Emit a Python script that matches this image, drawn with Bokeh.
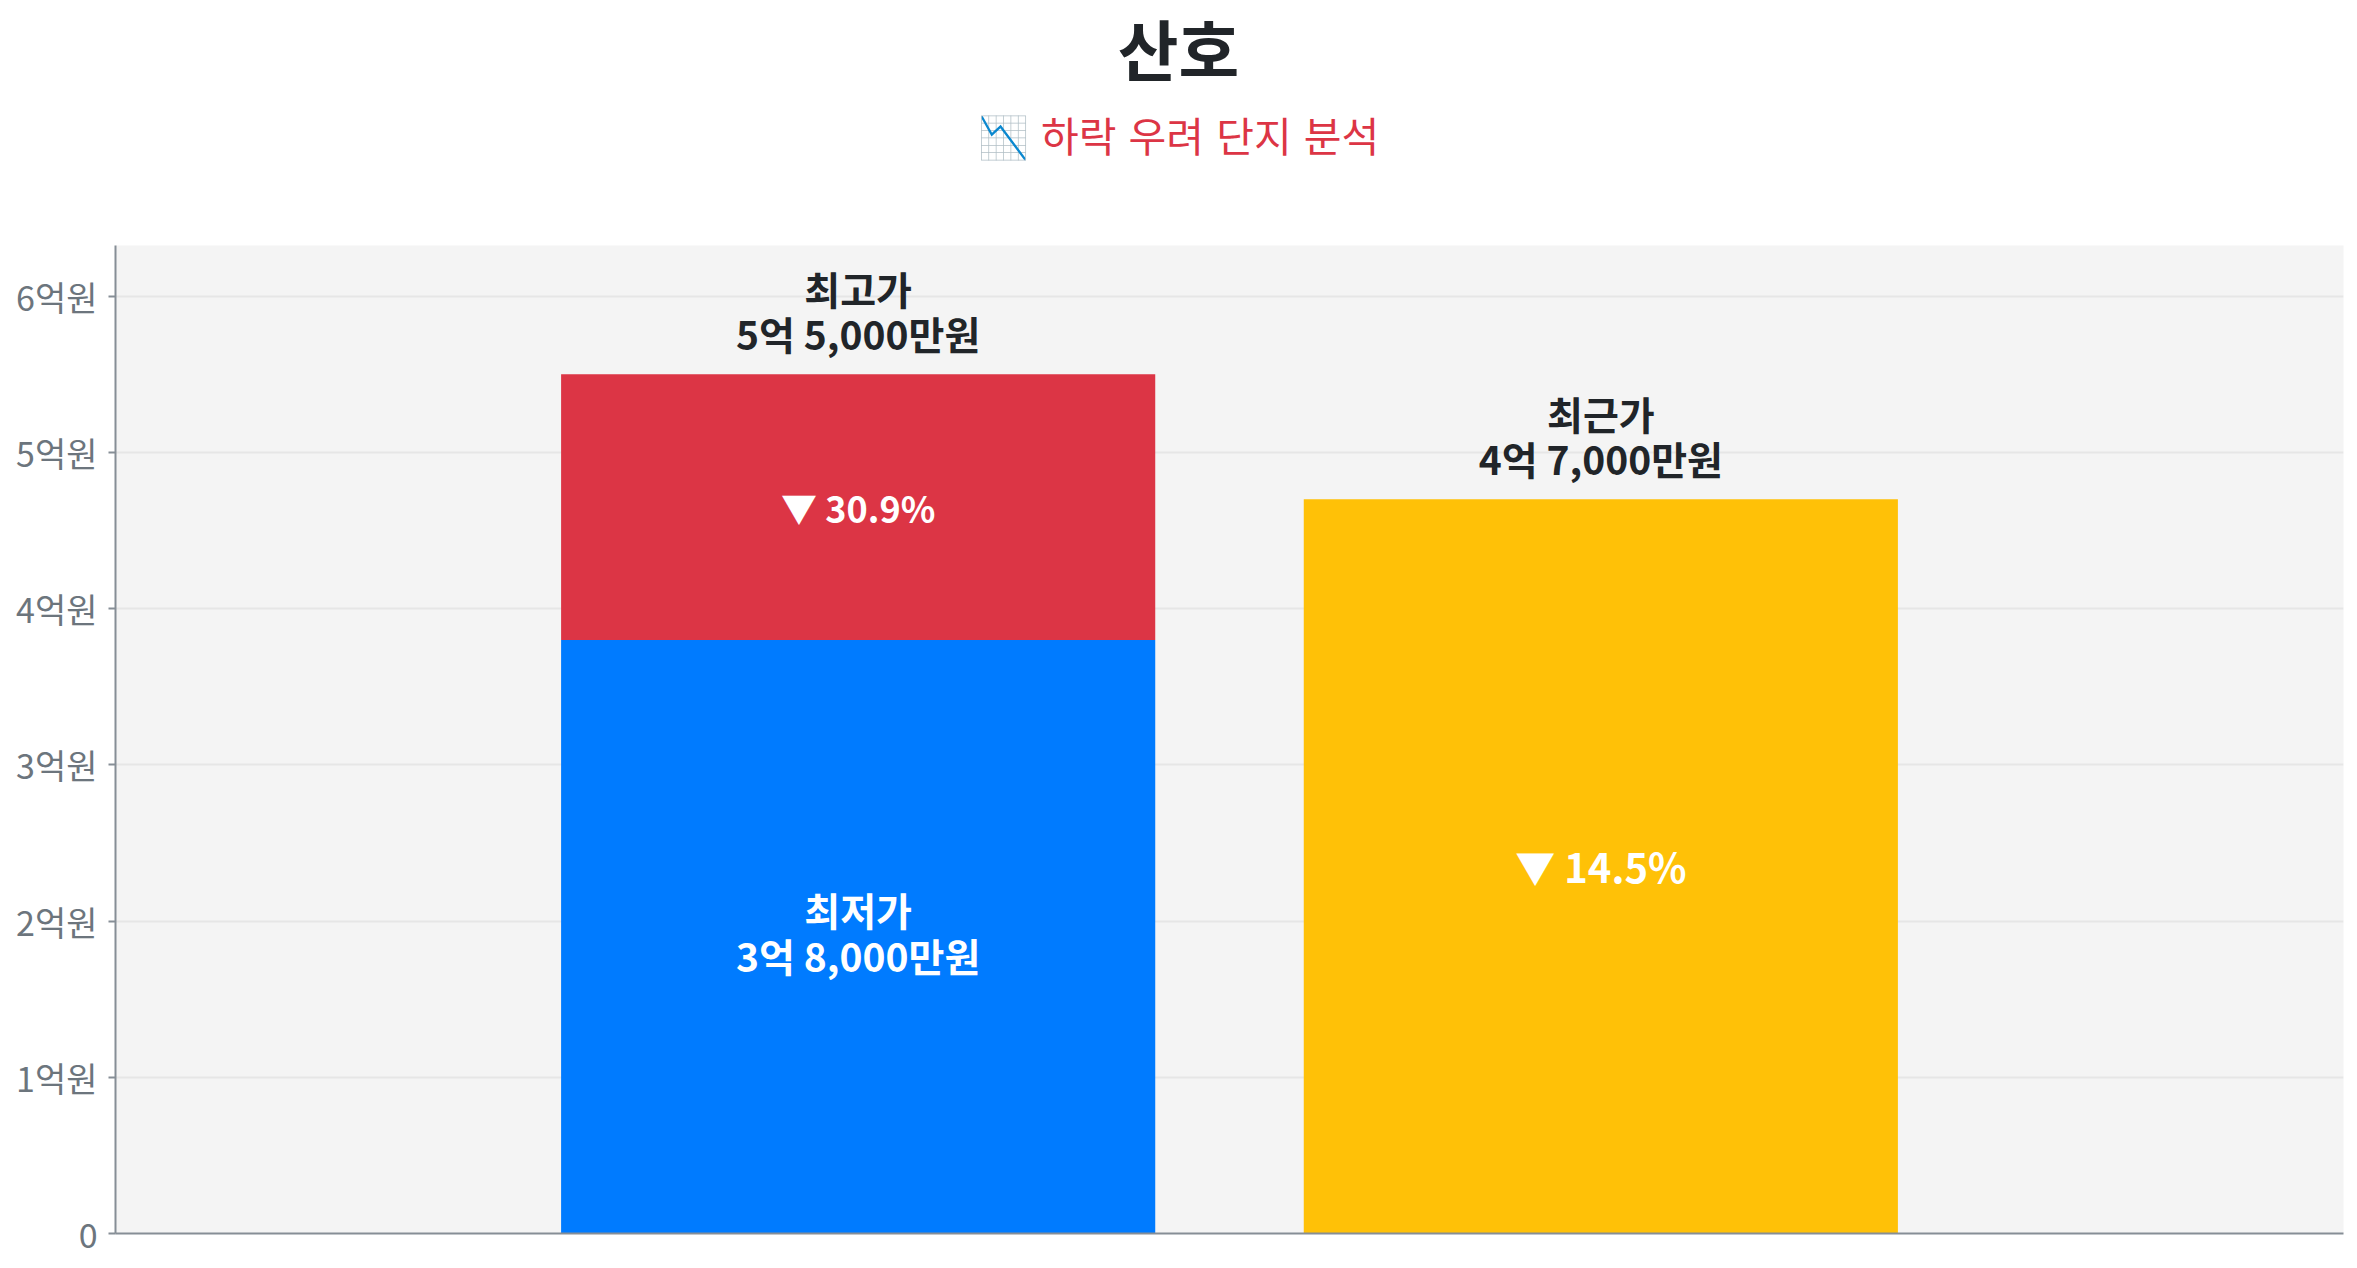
from bokeh.plotting import figure
from bokeh.models import Range1d, FixedTicker, ColumnDataSource, Div
from bokeh.layouts import column
from bokeh.core.properties import value
from bokeh.embed import file_html
from bokeh.resources import INLINE

# ---- data ----
complex_name = "산호"
subtitle_text = "📉 하락 우려 단지 분석"
price_names = ["최저가", "최고가", "최근가"]
price_values = [3.8, 5.5, 4.7]          # 억원: 최저가, 최고가, 최근가
bar_slots = [1, 1, 2]                   # x slot of each price bar
price_colors = ["#007bff", "#dc3545", "#ffc107"]
y_ticks = [0, 1, 2, 3, 4, 5, 6]
y_tick_labels = ["0", "1억원", "2억원", "3억원", "4억원", "5억원", "6억원"]

FONT = "Noto Sans CJK KR"


def fmt_price(v):
    eok = int(v)
    man = int(round((v - eok) * 10000))
    return f"{eok}억 {man:,}만원" if man else f"{eok}억원"


low, high, recent = price_values
drop_low = (high - low) / high * 100
drop_recent = (high - recent) / high * 100

W, H = 2357, 1266
HEAD = 235                                # height of the title block
FL, FR, FT, FB = 115, 2343, 245, 1233     # frame edges in page pixels

head = Div(
    text=(
        f'<div style="position:relative;width:{W}px;height:{HEAD}px;'
        f'font-family:\'{FONT}\';text-align:center;">'
        f'<div style="position:absolute;left:0;top:11px;width:100%;'
        f'font-size:66px;line-height:1.1;font-weight:700;color:#212529;">'
        f'{complex_name}</div>'
        f'<div style="position:absolute;left:0;top:112px;width:100%;'
        f'font-size:41px;line-height:1.1;font-weight:400;color:#dc3545;'
        f'word-spacing:3px;">'
        f'{subtitle_text}</div>'
        f'</div>'
    ),
    width=W, height=HEAD, margin=0,
)

p = figure(width=W, height=H - HEAD,
           x_range=Range1d(0, 3), y_range=Range1d(0, high * 1.15),
           output_backend="svg", toolbar_location=None, title=None,
           min_border_left=FL, min_border_right=W - FR,
           min_border_top=FT - HEAD, min_border_bottom=H - FB,
           background_fill_color="#f4f4f4", border_fill_color="white",
           outline_line_color=None, margin=0)

# bars (blue base, red stacked segment, yellow)
bars = ColumnDataSource(dict(
    x=bar_slots,
    bottom=[0, low, 0],
    top=[low, high, recent],
    color=price_colors,
))
p.vbar(x="x", bottom="bottom", top="top", width=0.8, color="color",
       line_color=None, source=bars)

# labels above bars
above = ColumnDataSource(dict(
    x=[bar_slots[1], bar_slots[2]],
    y=[high, recent],
    name=[price_names[1], price_names[2]],
    val=[fmt_price(high), fmt_price(recent)],
))
p.text(x="x", y="y", text="name", source=above, y_offset=-86,
       text_align="center", text_baseline="middle", text_font=value(FONT),
       text_font_size="39px", text_font_style="bold", text_color="#212529")
p.text(x="x", y="y", text="val", source=above, y_offset=-41,
       text_align="center", text_baseline="middle", text_font=value(FONT),
       text_font_size="39px", text_font_style="bold", text_color="#212529")

# label inside the blue bar
inside = ColumnDataSource(dict(
    x=[bar_slots[0]], y=[low / 2],
    name=[price_names[0]], val=[fmt_price(low)],
))
p.text(x="x", y="y", text="name", source=inside, y_offset=-28,
       text_align="center", text_baseline="middle", text_font=value(FONT),
       text_font_size="39px", text_font_style="bold", text_color="white")
p.text(x="x", y="y", text="val", source=inside, y_offset=18,
       text_align="center", text_baseline="middle", text_font=value(FONT),
       text_font_size="39px", text_font_style="bold", text_color="white")

# drop percentages
p.text(x=[bar_slots[1]], y=[(low + high) / 2], text=[f"▼ {drop_low:.1f}%"],
       text_align="center", text_baseline="middle", text_font=value(FONT),
       text_font_size="36px", text_font_style="bold", text_color="white")
p.text(x=[bar_slots[2]], y=[recent / 2], text=[f"▼ {drop_recent:.1f}%"],
       text_align="center", text_baseline="middle", text_font=value(FONT),
       text_font_size="40px", text_font_style="bold", text_color="white")

# axes
ax_col = "#868e96"
p.yaxis.ticker = FixedTicker(ticks=y_ticks)
p.yaxis.major_label_overrides = dict(zip(y_ticks, y_tick_labels))
p.yaxis.major_label_text_font = FONT
p.yaxis.major_label_text_font_size = "34px"
p.yaxis.major_label_text_color = "#6c757d"
p.yaxis.axis_line_color = ax_col
p.yaxis.axis_line_width = 2
p.yaxis.major_tick_line_color = ax_col
p.yaxis.major_tick_line_width = 2
p.yaxis.major_tick_out = 7
p.yaxis.major_tick_in = 0
p.yaxis.minor_tick_line_color = None
p.yaxis.major_label_standoff = 11

p.xaxis.ticker = FixedTicker(ticks=[])
p.xaxis.axis_line_color = ax_col
p.xaxis.axis_line_width = 2
p.xaxis.major_tick_line_color = None
p.xaxis.minor_tick_line_color = None
p.xaxis.major_label_text_font_size = "0px"

p.xgrid.grid_line_color = None
p.ygrid.grid_line_color = "#e6e6e6"
p.ygrid.grid_line_width = 2

layout = column(head, p, spacing=0, margin=0)
open("out.html", "w").write(file_html(layout, INLINE))
